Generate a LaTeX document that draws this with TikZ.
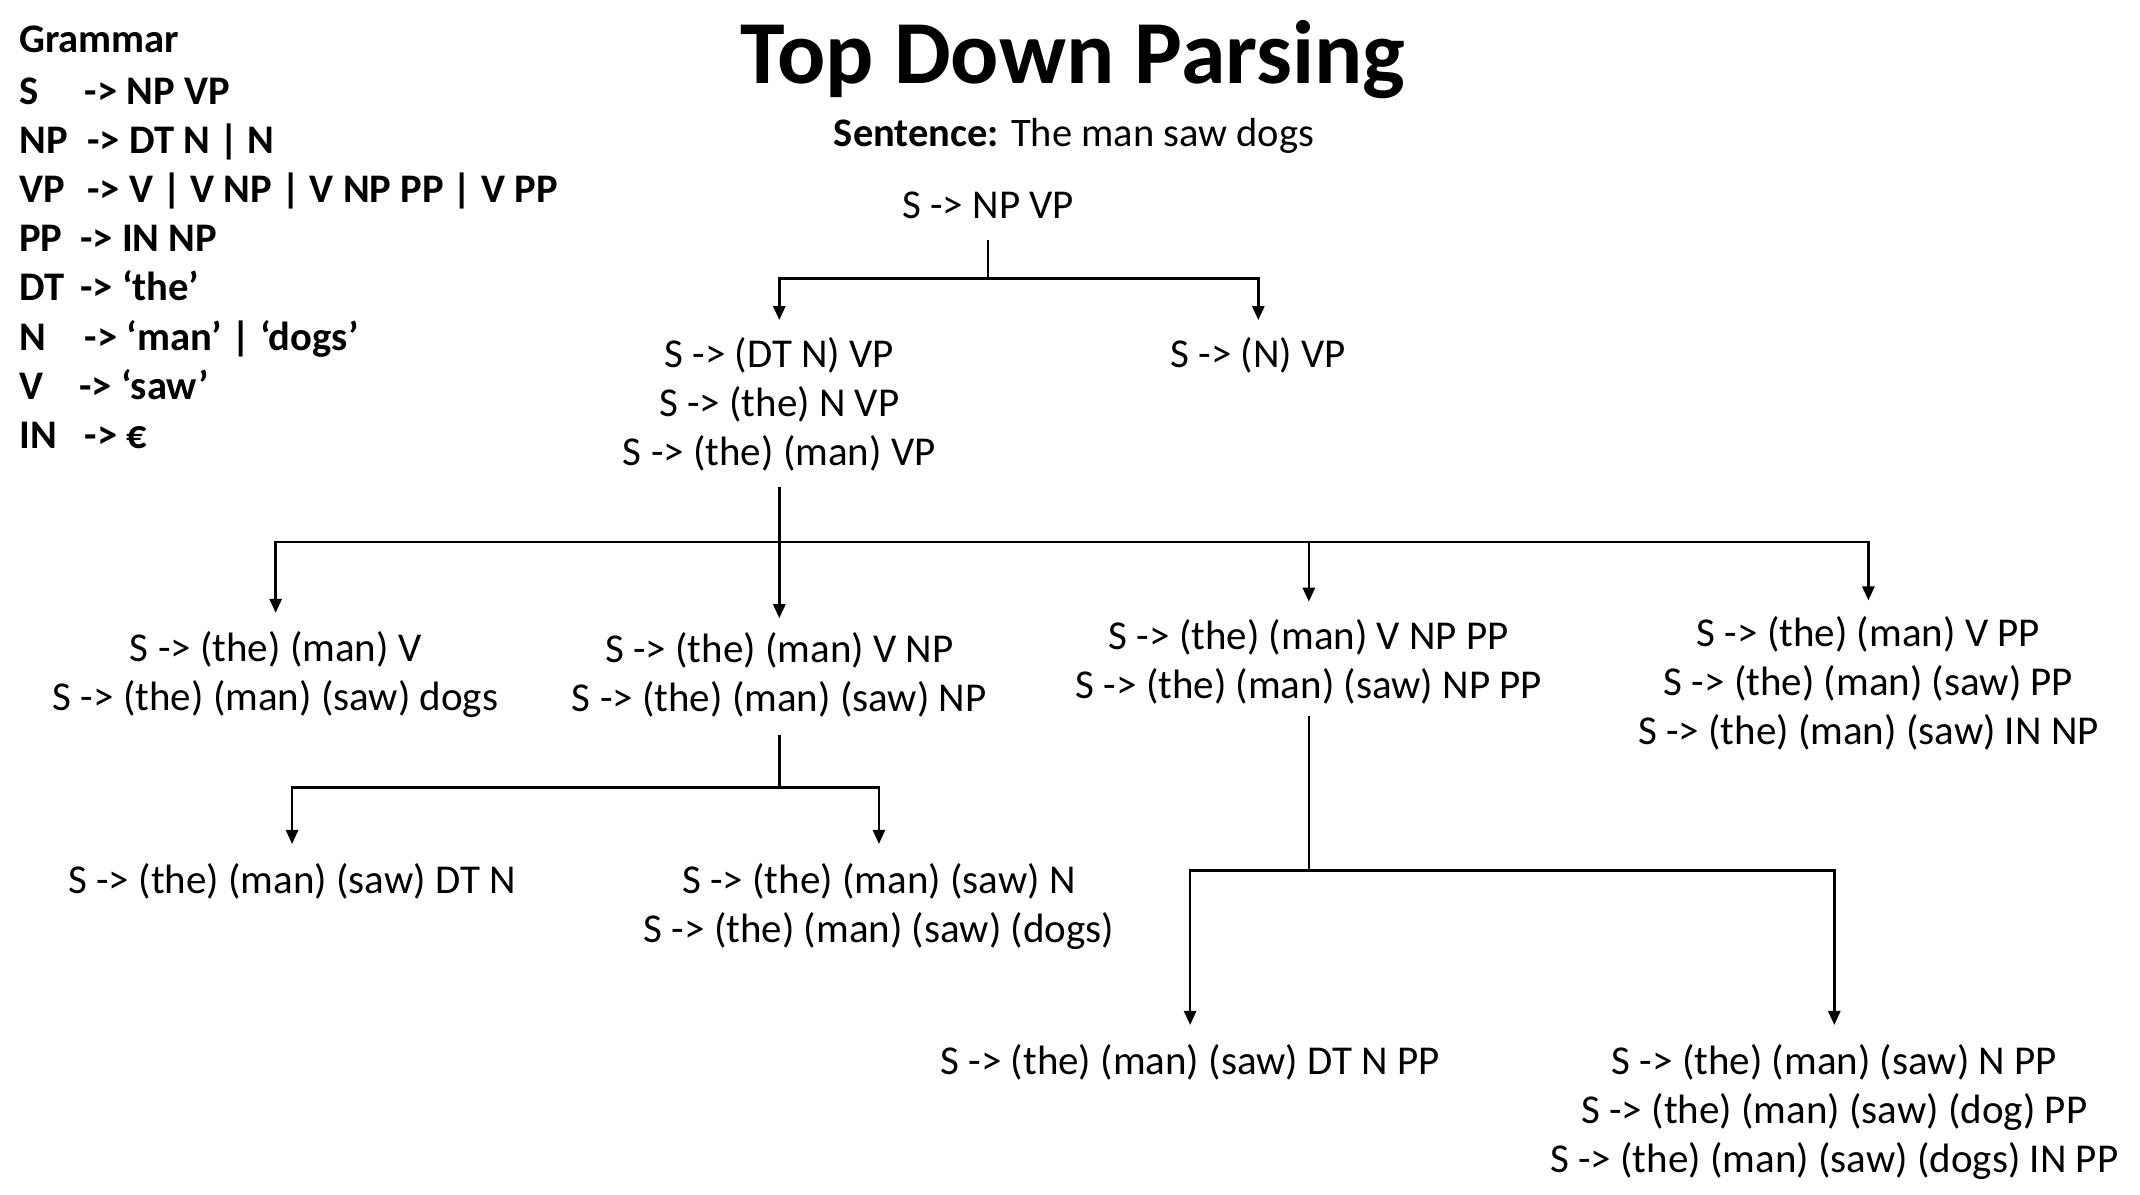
\documentclass[tikz,border=0pt]{standalone}
\usepackage{fontspec}
\setmainfont{Carlito}
\usetikzlibrary{arrows.meta}
\begin{document}
\begin{tikzpicture}[x=1.3648pt,y=-1.3648pt,
 tnode/.style={align=center,inner sep=0pt,outer sep=0pt,anchor=north,
   font=\fontsize{41}{49}\selectfont, execute at end node=\strut},
 gline/.style={anchor=base west,inner sep=0pt,font=\fontsize{40.6}{49}\selectfont\bfseries},
 conn/.style={line width=2.6pt},
 arr/.style={line width=2.6pt,-{Triangle[length=14pt,width=12pt]}},
]
\useasboundingbox (0,0) rectangle (1568,875);

% title and sentence
\node[anchor=base,inner sep=0pt,font=\fontsize{90}{100}\selectfont\bfseries] (title) at (786,61) {Top Down Parsing};
\node[anchor=base,inner sep=0pt,font=\fontsize{40.5}{49}\selectfont] (sent) at (787,107.5) {\textbf{Sentence:} The man saw dogs};

% grammar
\newcommand\gl[3]{\makebox[#2][l]{#1}#3}
\node[gline] (g0) at (14,38.5) {Grammar};
\node[gline] (g1) at (14,76.5) {\gl{S}{65.5pt}{-> NP VP}};
\node[gline] (g2) at (14,112.5) {\gl{NP}{68pt}{-> DT N | N}};
\node[gline] (g3) at (14,148.5) {\gl{VP}{68pt}{-> V | V NP | V NP PP | V PP}};
\node[gline] (g4) at (14,184.5) {\gl{PP}{61pt}{-> IN NP}};
\node[gline] (g5) at (14,220.5) {\gl{DT}{61pt}{-> ‘the’}};
\node[gline] (g6) at (14,256.5) {\gl{N}{65.5pt}{-> ‘man’ | ‘dogs’}};
\node[gline] (g7) at (14,292.5) {\gl{V}{60pt}{-> ‘saw’}};
\node[gline] (g8) at (14,328.5) {\gl{IN}{65.5pt}{-> €}};

% tree nodes
\node[tnode] (root) at (724,135.3) {\strut S -> NP VP};
\node[tnode] (n1) at (571,244.4) {\strut S -> (DT N) VP\\S -> (the) N VP\\S -> (the) (man) VP};
\node[tnode] (n2) at (922,244.4) {\strut S -> (N) VP};
\node[tnode] (a) at (202,459.3) {\strut S -> (the) (man) V\\S -> (the) (man) (saw) dogs};
\node[tnode] (b) at (571,460.3) {\strut S -> (the) (man) V NP\\S -> (the) (man) (saw) NP};
\node[tnode] (c) at (959,450.9) {\strut S -> (the) (man) V NP PP\\S -> (the) (man) (saw) NP PP};
\node[tnode] (d) at (1369,448.9) {\strut S -> (the) (man) V PP\\S -> (the) (man) (saw) PP\\S -> (the) (man) (saw) IN NP};
\node[tnode] (e) at (214,629.3) {\strut S -> (the) (man) (saw) DT N};
\node[tnode] (f) at (644,629.3) {\strut S -> (the) (man) (saw) N\\S -> (the) (man) (saw) (dogs)};
\node[tnode] (g) at (872,762.3) {\strut S -> (the) (man) (saw) DT N PP};
\node[tnode] (h) at (1344,762.3) {\strut S -> (the) (man) (saw) N PP\\S -> (the) (man) (saw) (dog) PP\\S -> (the) (man) (saw) (dogs) IN PP};

% junctions
\coordinate (j1) at (724,204);
\coordinate (j2) at (571,397);
\coordinate (j3) at (571,577);
\coordinate (j4) at (959,638);

% connectors
\draw[conn, shorten <=6.6pt] (root.south) -- (j1);
\draw[arr, shorten >=13.5pt] (j1) -| (n1.north);
\draw[arr, shorten >=13.5pt] (j1) -| (n2.north);

\draw[conn, shorten <=6.6pt] (n1.south) -- (j2);
\draw[arr, shorten >=14pt] (j2) -| (a.north);
\draw[arr, shorten >=10pt] (j2) -- (b.north);
\draw[arr, shorten >=13.7pt] (j2) -| (c.north);
\draw[arr, shorten >=12.2pt] (j2) -| (d.north);

\draw[conn, shorten <=8.3pt] (b.south) -- (j3);
\draw[arr, shorten >=14.9pt] (j3) -| (e.north);
\draw[arr, shorten >=14.9pt] (j3) -| (f.north);

\draw[conn, shorten <=2.7pt] (c.south) -- (j4);
\draw[arr, shorten >=15.4pt] (j4) -| (g.north);
\draw[arr, shorten >=15.4pt] (j4) -| (h.north);
\end{tikzpicture}
\end{document}
